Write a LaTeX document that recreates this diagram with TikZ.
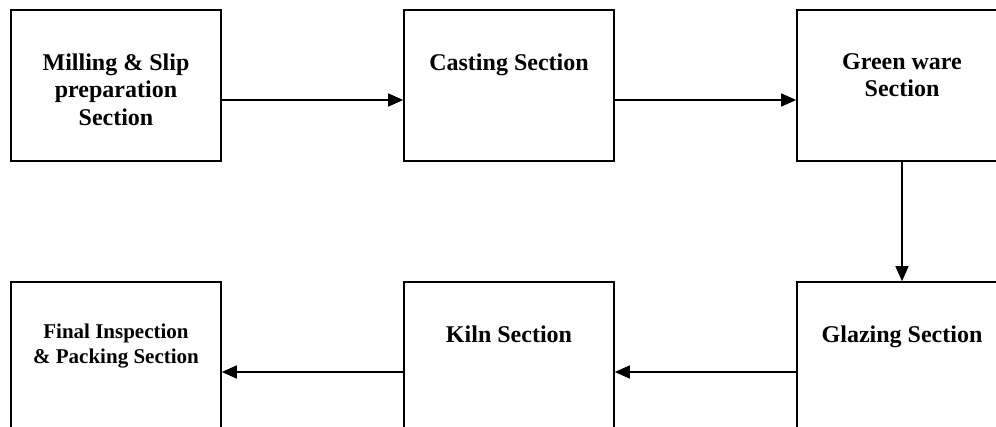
\documentclass[tikz,border=0pt]{standalone}
\usepackage{fontspec}
\setmainfont{Liberation Serif}
\usetikzlibrary{arrows.meta}
\tikzset{
  stage/.style={draw=black, line width=1.6pt, fill=white, minimum width=210pt, minimum height=151pt, inner sep=0pt},
  caption/.style={anchor=north, align=center, inner sep=0pt, font=\fontsize{24}{27.5}\selectfont\bfseries},
  smallcaption/.style={caption, font=\fontsize{21}{25}\selectfont\bfseries},
  flow/.style={line width=1.5pt, -{Triangle[length=15pt,width=13pt]}}
}
\begin{document}
\begin{tikzpicture}[x=1pt,y=1pt]
\useasboundingbox (0,0) rectangle (996,426);
\clip (0,0) rectangle (996,426);
\fill[white] (0,0) rectangle (996,426);
% top row
\node[stage] (mill) at (116,340.5) {};
\node[stage] (cast) at (509,340.5) {};
\node[stage] (green) at (902,340.5) {};
% bottom row
\node[stage] (final) at (116,68.5) {};
\node[stage] (kiln) at (509,68.5) {};
\node[stage] (glaze) at (902,68.5) {};
% captions
\node[caption] (millt) at ([yshift=-44pt]mill.north) {Milling \& Slip\\preparation\\Section};
\node[caption] (castt) at ([yshift=-44pt]cast.north) {Casting Section};
\node[caption] (greent) at ([yshift=-44pt]green.north) {Green ware\\Section};
\node[smallcaption] (finalt) at ([yshift=-42.5pt]final.north) {Final Inspection\\\& Packing Section};
\node[caption] (kilnt) at ([yshift=-44pt]kiln.north) {Kiln Section};
\node[caption] (glazet) at ([yshift=-44pt]glaze.north) {Glazing Section};
% connectors
\draw[flow] ([yshift=-14.5pt]mill.east) -- ([yshift=-14.5pt]cast.west);
\draw[flow] ([yshift=-14.5pt]cast.east) -- ([yshift=-14.5pt]green.west);
\draw[flow] (green.south) -- (glaze.north);
\draw[flow] ([yshift=-14.5pt]glaze.west) -- ([yshift=-14.5pt]kiln.east);
\draw[flow] ([yshift=-14.5pt]kiln.west) -- ([yshift=-14.5pt]final.east);
\end{tikzpicture}
\end{document}
